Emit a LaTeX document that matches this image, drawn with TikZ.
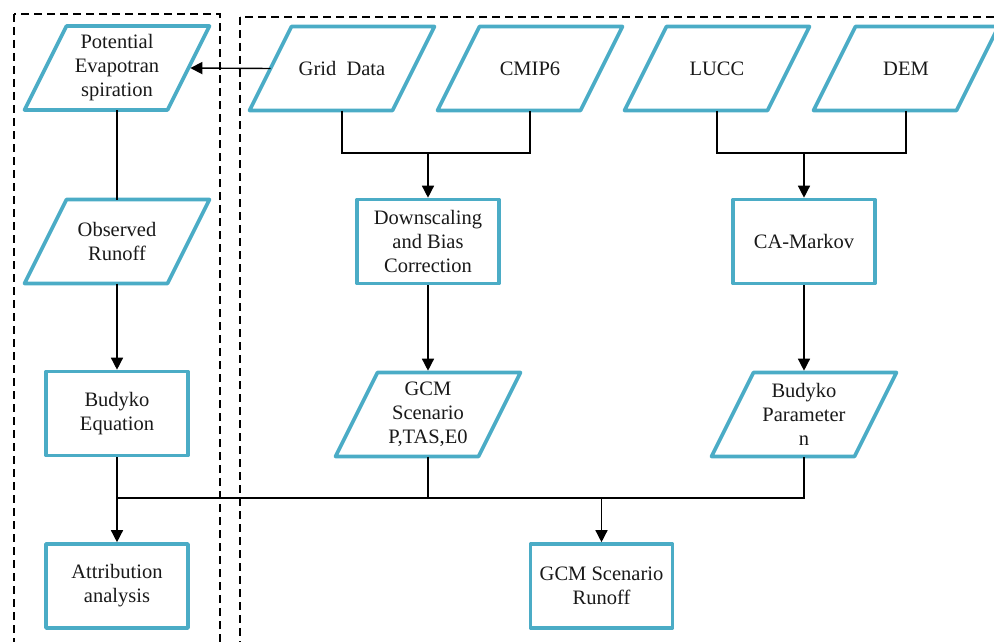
\documentclass[tikz,border=0pt]{standalone}
\usepackage{fontspec}
\setmainfont{Liberation Serif}
\newfontfamily\tnrfont{Liberation Serif}
\usetikzlibrary{arrows.meta}
\definecolor{boxc}{HTML}{4BACC6}
\newcommand\paraoutline[1]{\draw[paraline] ([xshift=42pt]#1.north west) -- (#1.north east) -- ([xshift=-42pt]#1.south east) -- (#1.south west) -- cycle;}
\begin{document}
\begin{tikzpicture}[x=1pt,y=-1pt,
 txt/.style={align=center, font=\tnrfont\fontsize{20.5}{24}\selectfont, inner sep=0pt, text=black!90},
 rbox/.style={txt, draw=boxc, line width=3.6pt, line join=round, rectangle, minimum width=142pt, minimum height=84pt},
 para/.style={txt, rectangle, outer sep=0pt, minimum width=185pt, minimum height=84pt},
 paraline/.style={draw=boxc, line width=3.6pt, line join=round},
 conn/.style={line width=1.4pt, black},
 arr/.style={conn, -{Triangle[length=12pt,width=12pt]}},
 topara/.style={shorten >=1.8pt},
 frame/.style={dash pattern=on 8pt off 5pt, line width=1.3pt}
]
\useasboundingbox (0,0) rectangle (994,642);
\clip (0,0) rectangle (994,642);
% dashed frames
\draw[frame] (14,14) rectangle (220,680);
\draw[frame] (240,17) rectangle (1020,680);
% nodes
\node[para] (pet) at (117,68) {Potential\\Evapotran\\spiration};
\node[para] (grid) at (342,68.5) {Grid\ \ Data};
\node[para] (cmip) at (530,68.5) {CMIP6};
\node[para] (lucc) at (717,68.5) {LUCC};
\node[para] (dem) at (906,68.5) {DEM};
\node[para] (obs) at (117,241.5) {Observed\\Runoff};
\node[rbox] (down) at (428,241.5) {Downscaling\\and Bias\\Correction};
\node[rbox] (ca) at (804,241.5) {CA-Markov};
\node[para] (gcm) at (428,414.5) {GCM\\Scenario\\P,TAS,E0};
\node[para] (bp) at (804,414.5) {Budyko\\Parameter\\n};
\node[rbox] (beq) at (117,413.5) {Budyko\\Equation};
\node[rbox] (attr) at (117,586) {Attribution\\analysis};
\node[rbox] (run) at (601.5,586) {GCM Scenario\\Runoff};
\paraoutline{pet}
\paraoutline{grid}
\paraoutline{cmip}
\paraoutline{lucc}
\paraoutline{dem}
\paraoutline{obs}
\paraoutline{gcm}
\paraoutline{bp}
% helper levels
\coordinate (ya) at (0,153);
\coordinate (yb) at (0,498);
% connectors
\draw[arr,topara] ([xshift=21pt]grid.west) -- ([xshift=-21pt]pet.east);
\draw[conn] (pet.south) -- (obs.north);
\draw[arr] (obs.south) -- (beq.north);
\draw[arr] (beq.south) -- (attr.north);
\draw[conn] (grid.south) |- (cmip.south |- ya) -- (cmip.south);
\draw[arr] (down.north |- ya) -- (down.north);
\draw[conn] (lucc.south) |- (dem.south |- ya) -- (dem.south);
\draw[arr] (ca.north |- ya) -- (ca.north);
\draw[arr,topara] (down.south) -- (gcm.north);
\draw[arr,topara] (ca.south) -- (bp.north);
\draw[conn] (gcm.south) -- (gcm.south |- yb);
\draw[conn] (beq.south |- yb) -- (bp.south |- yb) -- (bp.south);
\draw[arr] (run.north |- yb) -- (run.north);
\end{tikzpicture}
\end{document}
